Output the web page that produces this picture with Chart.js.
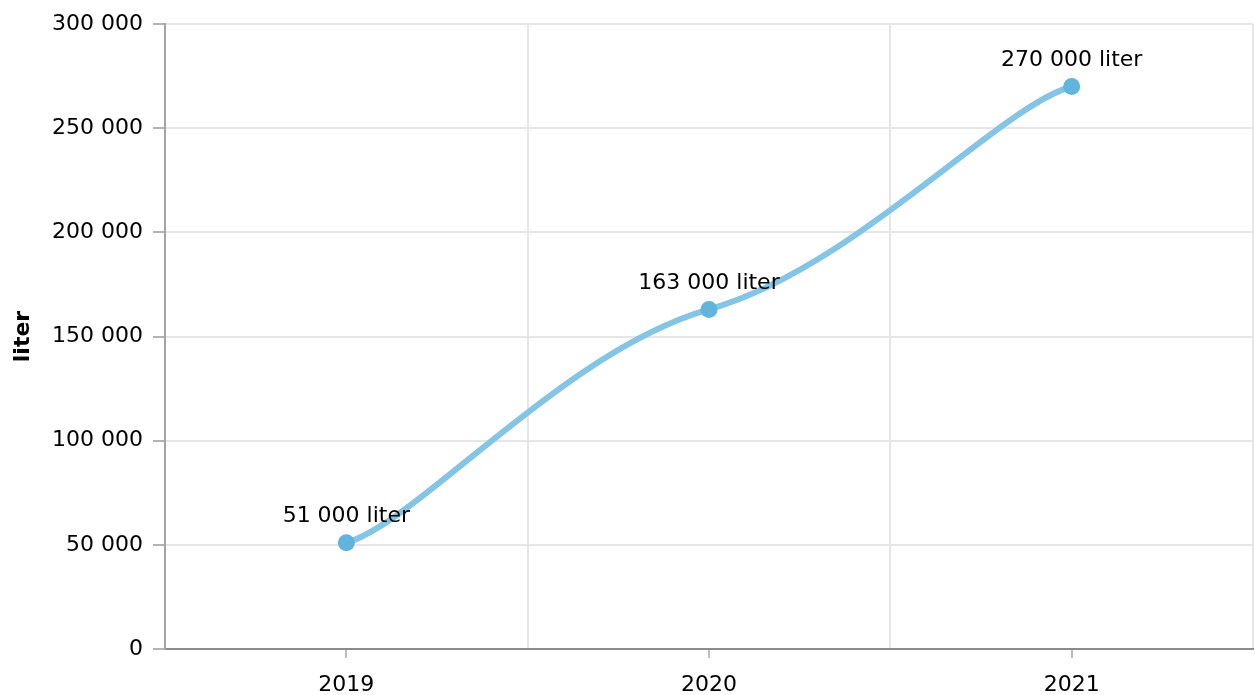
<!DOCTYPE html>
<html>
<head>
<meta charset="utf-8">
<title>liter</title>
<script src="https://cdn.jsdelivr.net/npm/chart.js@4.4.1/dist/chart.umd.min.js"></script>
<style>
  html, body { margin: 0; padding: 0; background: #fff; }
  #wrap { width: 1255px; height: 695px; }
</style>
</head>
<body>
<div id="wrap"><canvas id="literChart" width="1255" height="695"></canvas></div>
<script>
const years = ["2019", "2020", "2021"];
const litres = [51000, 163000, 270000];
const yMin = 0;
const yMax = 300000;
const yStep = 50000;
const unit = "liter";

const FONT = "'DejaVu Sans', Verdana, sans-serif";
const LINE_COLOR = "#84c4e4";
const POINT_COLOR = "#63b4dc";

function spaced(n) {
  return String(n).replace(/\B(?=(\d{3})+(?!\d))/g, " ");
}

// smoothing with mostly horizontal handles (flat-ish at the points, steep between)
const smoothX = {
  id: "smoothX",
  beforeDatasetDraw(chart, args) {
    const meta = args.meta;
    const line = meta.dataset;
    const pts = meta.data;
    line.updateControlPoints(chart.chartArea, meta.iScale.axis);
    const kx = 0.2;
    const ky = 0.09;
    pts.forEach((p, i) => {
      const prev = pts[i - 1] || p;
      const next = pts[i + 1] || p;
      const hx = kx * (next.x - prev.x);
      const hy = ky * (next.y - prev.y);
      p.cp1x = p.x - hx;
      p.cp1y = p.y - hy;
      p.cp2x = p.x + hx;
      p.cp2y = p.y + hy;
    });
    line._path = undefined;
  },
};

// tick marks under category centres + value labels above points
const extras = {
  id: "extras",
  afterDraw(chart) {
    const { ctx, chartArea } = chart;
    const x = chart.scales.x;
    ctx.save();
    ctx.strokeStyle = "#bdbdbd";
    ctx.lineWidth = 2;
    years.forEach((_, i) => {
      const px = Math.round(x.getPixelForValue(i));
      ctx.beginPath();
      ctx.moveTo(px, chartArea.bottom + 1);
      ctx.lineTo(px, chartArea.bottom + 9);
      ctx.stroke();
    });

    const meta = chart.getDatasetMeta(0);
    ctx.font = `22px ${FONT}`;
    ctx.fillStyle = "#000";
    ctx.textAlign = "center";
    ctx.textBaseline = "middle";
    meta.data.forEach((p, i) => {
      ctx.fillText(`${spaced(litres[i])} ${unit}`, p.x, p.y - 26);
    });
    ctx.restore();
  },
};

new Chart(document.getElementById("literChart"), {
  type: "line",
  data: {
    labels: years,
    datasets: [
      {
        label: unit,
        data: litres,
        borderColor: LINE_COLOR,
        borderWidth: 6,
        tension: 0.4,
        fill: false,
        pointRadius: 8.5,
        pointBorderWidth: 0,
        pointBackgroundColor: POINT_COLOR,
        pointBorderColor: POINT_COLOR,
      },
    ],
  },
  options: {
    responsive: false,
    animation: false,
    layout: { autoPadding: false, padding: { top: 24, right: 2, left: 0, bottom: 0 } },
    plugins: {
      legend: { display: false },
      tooltip: { enabled: false },
    },
    scales: {
      x: {
        type: "category",
        offset: true,
        grid: {
          offset: true,
          color: "#e6e6e6",
          lineWidth: 2,
          tickLength: 8,
          tickColor: "rgba(0,0,0,0)",
        },
        border: { color: "#8c8c8c", width: 2 },
        ticks: {
          font: { family: FONT, size: 22 },
          color: "#000",
          padding: 15,
          maxRotation: 0,
        },
        afterFit(scale) {
          scale.height = 46;
          scale.paddingLeft = 0;
          scale.paddingRight = 0;
        },
      },
      y: {
        min: yMin,
        max: yMax,
        ticks: {
          stepSize: yStep,
          callback: (v) => spaced(v),
          font: { family: FONT, size: 22 },
          color: "#000",
          padding: 10,
        },
        grid: {
          color: "#e6e6e6",
          lineWidth: 2,
          tickLength: 12,
          tickColor: "#b3b3b3",
        },
        border: { color: "#a3a3a3", width: 2 },
        title: {
          display: true,
          text: unit,
          font: { family: FONT, size: 22, weight: "bold" },
          color: "#000",
          padding: { top: 10, bottom: 0 },
        },
        afterFit(scale) {
          scale.width = 165;
        },
      },
    },
  },
  plugins: [smoothX, extras],
});
</script>
</body>
</html>
